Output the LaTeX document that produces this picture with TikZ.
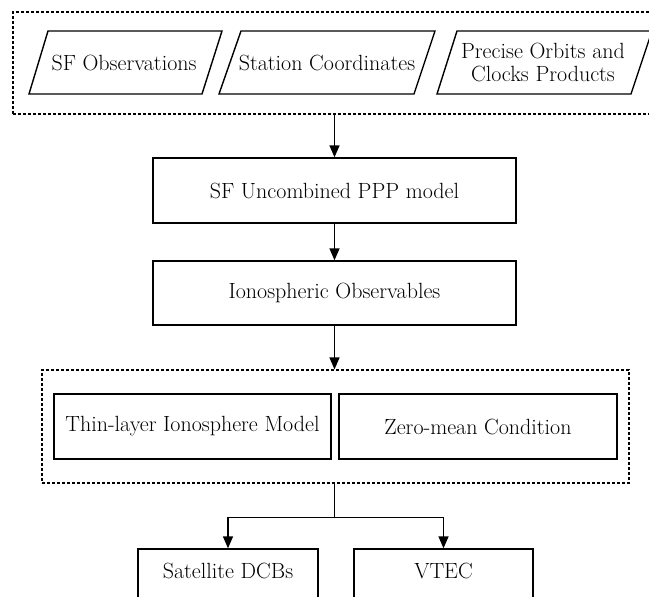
\documentclass[tikz,border=0pt]{standalone}
\usepackage{fontspec}
\usetikzlibrary{arrows.meta}
\begin{document}
\begin{tikzpicture}[x=1pt,y=-1pt,
  box/.style={draw, line width=1.4pt, inner sep=0pt},
  grp/.style={draw, line width=1.2pt, dash pattern=on 3pt off 2pt, inner sep=0pt},
  lbl/.style={font=\fontsize{22}{23.5}\selectfont, align=center, inner sep=0pt},
  conn/.style={line width=1.5pt, -{Triangle[width=10pt,length=12pt]}},
  wire/.style={line width=1.5pt}]
\useasboundingbox (0,0) rectangle (649,597);
\clip (0,0) rectangle (649,597);

% top group
\node[grp, minimum width=647pt, minimum height=102pt] (g1) at (336.5,63) {};
\draw[box] (29,94) -- (202,94) -- (222,31) -- (48,31) -- cycle;
\draw[box] (219,94) -- (414,94) -- (435,31) -- (241,31) -- cycle;
\draw[box] (437,94) -- (631,94) -- (652,31) -- (457,31) -- cycle;
\node[lbl] (obs) at (124,62.5) {SF Observations};
\node[lbl] (coord) at (327,62.5) {Station Coordinates};
\node[lbl] (orb) at (543,62.5) {Precise Orbits and\\Clocks Products};

% middle boxes
\node[box, lbl, draw, minimum width=363pt, minimum height=65pt] (sf) at (334.5,190.5) {SF Uncombined PPP model};
\node[box, lbl, draw, minimum width=363pt, minimum height=64pt] (iono) at (334.5,293) {Ionospheric Observables};

% second group
\node[grp, minimum width=587pt, minimum height=113pt] (g2) at (335.5,426.5) {};
\node[box, lbl, draw, minimum width=277pt, minimum height=65pt] (thin) at (192.5,426.5) {Thin-layer Ionosphere Model};
\node[box, lbl, draw, minimum width=278pt, minimum height=65pt] (zero) at (478,426.5) {Zero-mean Condition};

% outputs
\node[box, lbl, draw, minimum width=180pt, minimum height=66pt] (sat) at (228,582) {};
\node[lbl, anchor=base] (satt) at (228,578) {Satellite DCBs};
\node[box, lbl, draw, minimum width=179pt, minimum height=66pt] (vtec) at (443.5,582) {};
\node[lbl, anchor=base] (vtect) at (443.5,578) {VTEC};

% connectors
\draw[conn] (sf.north |- g1.south) -- (sf.north);
\draw[conn] (sf.south) -- (iono.north);
\draw[conn] (iono.south) -- (iono.south |- g2.north);
\draw[wire] (iono.south |- g2.south) -- ++(0,34) coordinate (split);
\draw[conn] (split) -| (sat.north);
\draw[conn] (split) -| (vtec.north);
\end{tikzpicture}
\end{document}
